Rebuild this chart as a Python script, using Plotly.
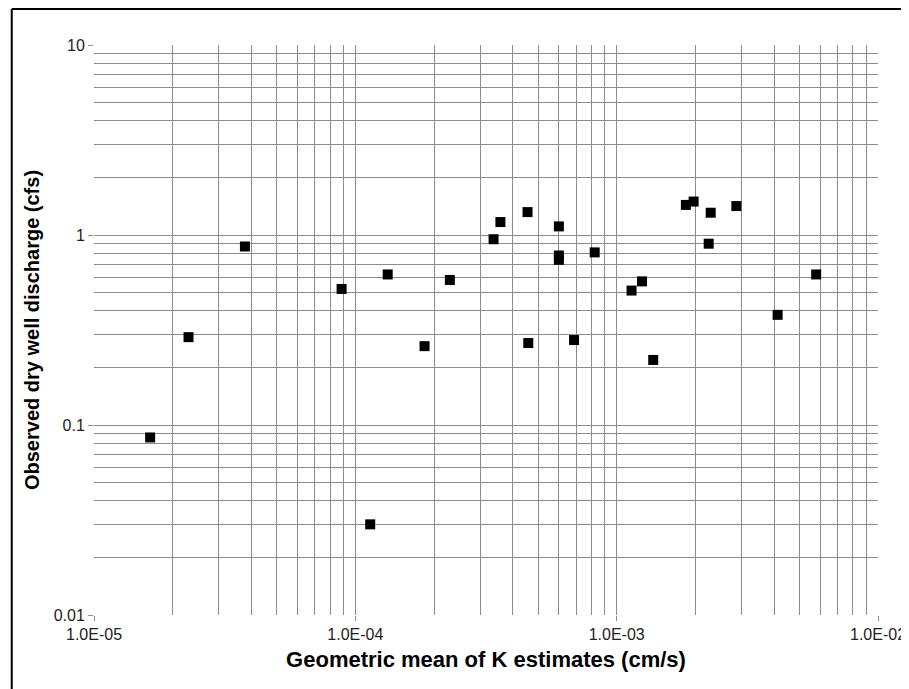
import plotly.graph_objects as go

# Geometric mean of K estimates (cm/s)
k_mean = [1.64e-5, 2.30e-5, 3.78e-5, 8.86e-5, 1.14e-4, 1.33e-4, 1.84e-4, 2.30e-4,
          3.38e-4, 3.59e-4, 4.56e-4, 4.59e-4, 6.01e-4, 6.01e-4, 6.01e-4, 6.87e-4,
          8.24e-4, 1.14e-3, 1.25e-3, 1.38e-3, 1.84e-3, 1.97e-3, 2.25e-3, 2.29e-3,
          2.87e-3, 4.13e-3, 5.80e-3]
# Observed dry well discharge (cfs)
discharge = [0.086, 0.29, 0.87, 0.52, 0.030, 0.62, 0.26, 0.58,
             0.95, 1.17, 1.32, 0.27, 1.11, 0.78, 0.74, 0.28,
             0.81, 0.51, 0.57, 0.22, 1.44, 1.50, 0.90, 1.31,
             1.42, 0.38, 0.62]

x_ticks = [1e-5, 1e-4, 1e-3, 1e-2]
x_ticktext = ["1.0E-05", "1.0E-04", "1.0E-03", "1.0E-02"]
y_ticks = [0.01, 0.1, 1, 10]
y_ticktext = ["0.01", "0.1", "1", "10"]

x_minor = [m * d for d in [1e-5, 1e-4, 1e-3] for m in range(2, 10)]
y_minor = [m * d for d in [0.01, 0.1, 1] for m in range(2, 10)]

FONT = "Arial, Liberation Sans, sans-serif"
GRID = "#8c8c8c"

fig = go.Figure()
fig.add_trace(go.Scatter(
    x=k_mean, y=discharge, mode="markers",
    marker=dict(symbol="square", size=10, color="black", line=dict(width=0)),
    showlegend=False,
))

axis_common = dict(
    showline=False, zeroline=False,
    showgrid=True, gridcolor=GRID, gridwidth=1,
    ticks="outside", ticklen=5, tickcolor=GRID, tickwidth=1,
    tickfont=dict(family=FONT, size=16, color="#222222"),
)

fig.update_xaxes(
    type="log", range=[-5, -2],
    tickmode="array", tickvals=x_ticks, ticktext=x_ticktext,
    minor=dict(tickmode="array", tickvals=x_minor, showgrid=True,
               gridcolor=GRID, gridwidth=1, ticks=""),
    title=dict(text="<b>Geometric mean of K estimates (cm/s)</b>",
               font=dict(family=FONT, size=22, color="black"), standoff=9),
    **axis_common,
)
fig.update_yaxes(
    type="log", range=[-2, 1],
    tickmode="array", tickvals=y_ticks, ticktext=y_ticktext,
    minor=dict(tickmode="array", tickvals=y_minor, showgrid=True,
               gridcolor=GRID, gridwidth=1, ticks=""),
    title=dict(text="<b>Observed dry well discharge (cfs)</b>",
               font=dict(family=FONT, size=20, color="black"), standoff=8),
    **axis_common,
)

# outer chart frame: only its left and top edges are inside the picture
fig.add_shape(type="line", xref="paper", yref="paper",
              x0=-0.1049, x1=-0.1049, y0=-0.2, y1=1.0631,
              line=dict(color="black", width=2), layer="above")
fig.add_shape(type="line", xref="paper", yref="paper",
              x0=-0.1049, x1=1.2, y0=1.0631, y1=1.0631,
              line=dict(color="black", width=2), layer="above")

# the page body has an 8px margin, so the figure is offset by 8px
fig.update_layout(
    width=901, height=681,
    margin=dict(l=86, r=30.5, t=37, b=73.5, autoexpand=False),
    paper_bgcolor="white", plot_bgcolor="white",
    font=dict(family=FONT),
)

fig.write_html("out.html")
